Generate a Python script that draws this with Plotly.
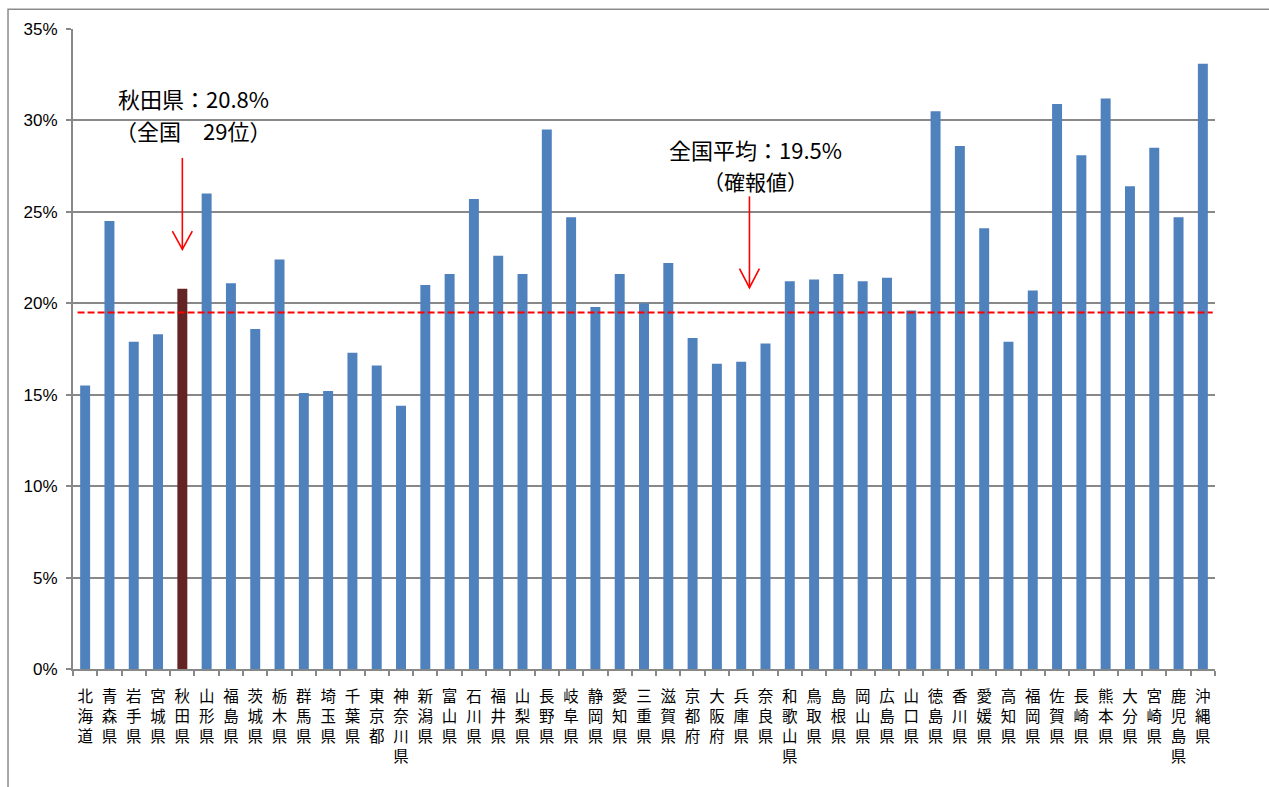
import plotly.graph_objects as go

# 都道府県別の割合（%）
prefectures = [
    "北海道", "青森県", "岩手県", "宮城県", "秋田県", "山形県", "福島県", "茨城県",
    "栃木県", "群馬県", "埼玉県", "千葉県", "東京都", "神奈川県", "新潟県", "富山県",
    "石川県", "福井県", "山梨県", "長野県", "岐阜県", "静岡県", "愛知県", "三重県",
    "滋賀県", "京都府", "大阪府", "兵庫県", "奈良県", "和歌山県", "鳥取県", "島根県",
    "岡山県", "広島県", "山口県", "徳島県", "香川県", "愛媛県", "高知県", "福岡県",
    "佐賀県", "長崎県", "熊本県", "大分県", "宮崎県", "鹿児島県", "沖縄県",
]
rates = [
    15.5, 24.5, 17.9, 18.3, 20.8, 26.0, 21.1, 18.6,
    22.4, 15.1, 15.2, 17.3, 16.6, 14.4, 21.0, 21.6,
    25.7, 22.6, 21.6, 29.5, 24.7, 19.8, 21.6, 20.0,
    22.2, 18.1, 16.7, 16.8, 17.8, 21.2, 21.3, 21.6,
    21.2, 21.4, 19.6, 30.5, 28.6, 24.1, 17.9, 20.7,
    30.9, 28.1, 31.2, 26.4, 28.5, 24.7, 33.1,
]
highlight = "秋田県"
national_avg = 19.5
y_ticks = [0, 5, 10, 15, 20, 25, 30, 35]
y_tick_text = [f"{v}%" for v in y_ticks]

BLUE = "#4F81BD"
MAROON = "#632423"
GRID = "#888888"
RED = "#FF0000"
JP_FONT = "Noto Sans CJK JP"

colors = [MAROON if p == highlight else BLUE for p in prefectures]
tick_text = ["<br>".join(p) for p in prefectures]

fig = go.Figure(
    go.Bar(
        x=prefectures,
        y=rates,
        marker=dict(color=colors, line=dict(width=0)),
        hoverinfo="x+y",
    )
)

# 全国平均の破線
fig.add_shape(
    type="line", xref="paper", yref="y",
    x0=0.004, x1=0.998, y0=national_avg, y1=national_avg,
    line=dict(color=RED, width=2, dash="7px,3px"),
)


def down_arrow(xc, y_top, y_tip, y_arm, half_w=0.41):
    # 縦線と開いた矢じり
    fig.add_shape(
        type="path", xref="x", yref="y",
        path=f"M {xc},{y_top} L {xc},{y_tip}",
        line=dict(color=RED, width=1.6),
    )
    fig.add_shape(
        type="path", xref="x", yref="y",
        path=f"M {xc - half_w},{y_arm} L {xc},{y_tip} L {xc + half_w},{y_arm}",
        line=dict(color=RED, width=1.6),
    )


akita_idx = prefectures.index(highlight)
down_arrow(akita_idx, 27.95, 22.95, 23.95)
down_arrow(27.34, 25.85, 20.85, 21.9)

notes = [
    (4.45, 31.25, f"{highlight}：20.8%", 22),
    (4.45, 29.45, "（全国　29位）", 22),
    (27.58, 28.45, f"全国平均：{national_avg}%", 22),
    (27.58, 26.68, "（確報値）", 21),
]
for xc, yc, txt, size in notes:
    fig.add_annotation(
        x=xc, y=yc, xref="x", yref="y", text=txt, showarrow=False,
        xanchor="center", yanchor="middle",
        font=dict(family=JP_FONT, size=size, color="#000000"),
    )

# グラフ外枠
fig.add_shape(
    type="rect", xref="paper", yref="paper",
    x0=-0.0569, x1=1.2, y0=-0.4, y1=1.031,
    line=dict(color="#8c8c8c", width=1.5), fillcolor="rgba(0,0,0,0)",
    layer="below",
)

fig.update_layout(
    width=1269, height=787,
    margin=dict(l=73, r=54, t=29, b=118, pad=0),
    paper_bgcolor="white", plot_bgcolor="white",
    bargap=0.59, showlegend=False,
    xaxis=dict(
        type="category",
        tickmode="array", tickvals=prefectures, ticktext=tick_text,
        tickangle=0, showgrid=False,
        showline=True, linecolor=GRID, linewidth=2,
        ticks="outside", tickson="boundaries", ticklen=5, tickcolor=GRID, tickwidth=1.5,
        ticklabelstandoff=12,
        tickfont=dict(family=JP_FONT, size=15.5, color="#000000"),
        range=[-0.5, len(prefectures) - 0.5],
    ),
    yaxis=dict(
        range=[0, 35], tickmode="array", tickvals=y_ticks, ticktext=y_tick_text,
        showgrid=True, gridcolor=GRID, gridwidth=2,
        showline=True, linecolor=GRID, linewidth=2,
        ticks="outside", ticklen=5, tickcolor=GRID, tickwidth=1.5,
        ticklabelstandoff=5,
        tickfont=dict(family="Liberation Sans Narrow, Liberation Sans, Arial", size=17, color="#000000"),
        zeroline=False,
    ),
)

fig.write_html("out.html")
